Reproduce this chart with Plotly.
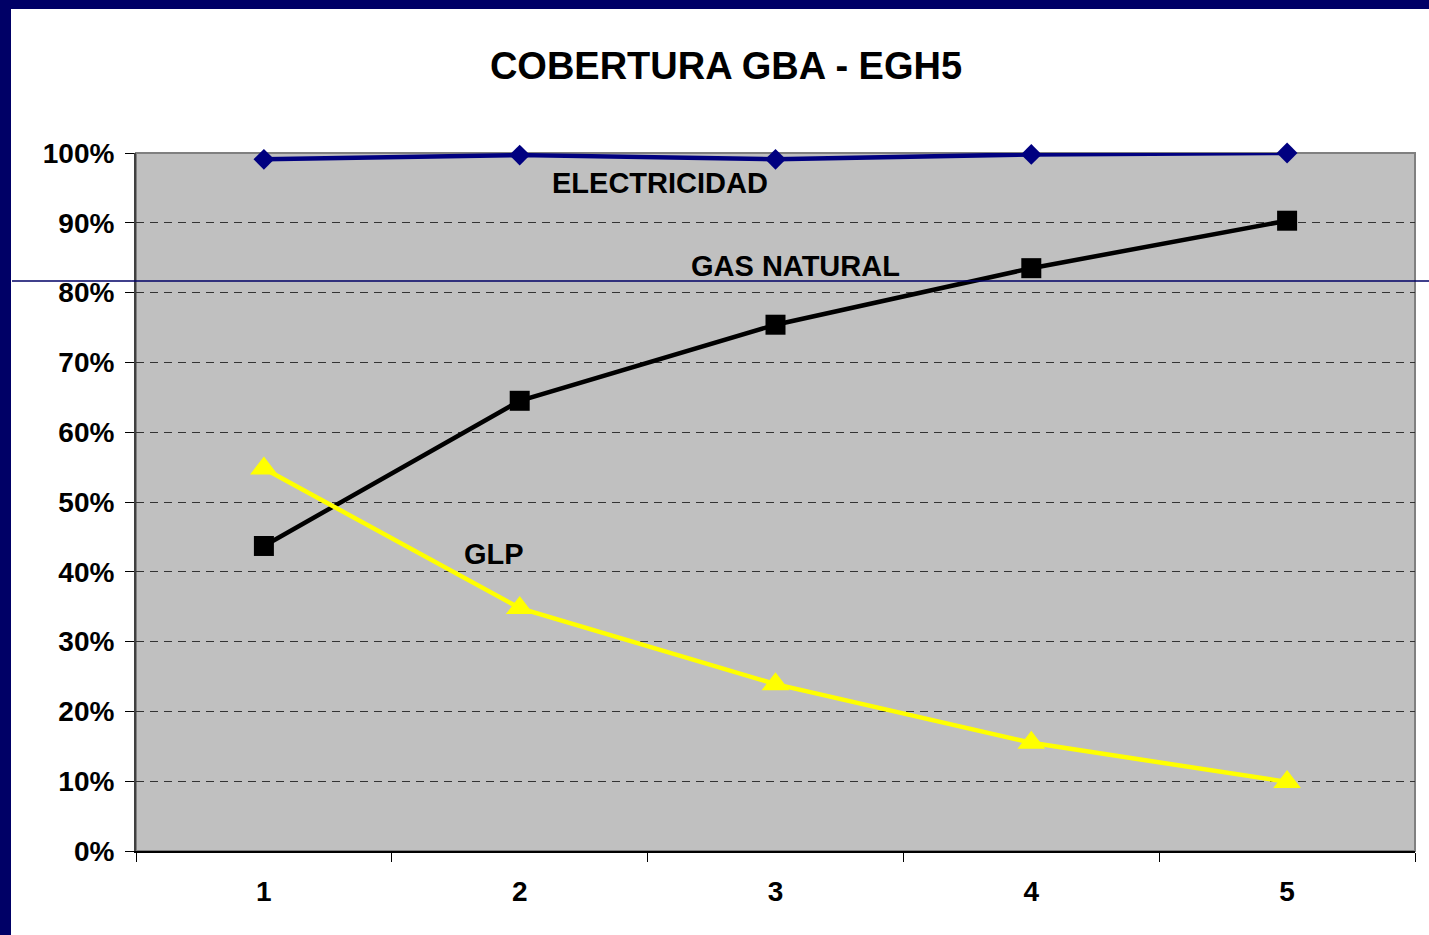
import plotly.graph_objects as go

quintiles = [1, 2, 3, 4, 5]
electricidad = [99.1, 99.7, 99.1, 99.8, 100.0]
gas_natural = [43.7, 64.5, 75.4, 83.5, 90.3]
glp = [54.8, 34.8, 23.9, 15.5, 9.9]

title_text = "COBERTURA GBA - EGH5"
series_labels = ["ELECTRICIDAD", "GAS NATURAL", "GLP"]

FONT = "Liberation Sans, Arial, Helvetica, sans-serif"
NAVY = "#000066"

fig = go.Figure()
fig.add_trace(
    go.Scatter(
        x=quintiles,
        y=electricidad,
        mode="lines+markers",
        name=series_labels[0],
        line=dict(color="#000080", width=4.5),
        marker=dict(symbol="diamond", size=16, color="#000080"),
        cliponaxis=False,
    )
)
fig.add_trace(
    go.Scatter(
        x=quintiles,
        y=gas_natural,
        mode="lines+markers",
        name=series_labels[1],
        line=dict(color="#000000", width=4.5),
        marker=dict(symbol="square", size=20, color="#000000"),
        cliponaxis=False,
    )
)
fig.add_trace(
    go.Scatter(
        x=quintiles,
        y=glp,
        mode="lines+markers",
        name=series_labels[2],
        line=dict(color="#FFFF00", width=4.5),
        marker=dict(symbol="triangle-up", size=24, color="#FFFF00"),
        cliponaxis=False,
    )
)

# labels placed next to each line
label_pos = [(2.55, 95.7), (3.08, 83.8), (1.90, 42.5)]
for text, (lx, ly) in zip(series_labels, label_pos):
    fig.add_annotation(
        x=lx, y=ly, xref="x", yref="y", text=f"<b>{text}</b>", showarrow=False,
        font=dict(family=FONT, size=29, color="#000000"),
    )

fig.update_layout(
    width=1429,
    height=935,
    margin=dict(l=136, r=14, t=153, b=84),
    paper_bgcolor="#FFFFFF",
    plot_bgcolor="#C0C0C0",
    showlegend=False,
    font=dict(family=FONT, color="#000000"),
    title=dict(
        text=f"<b>{title_text}</b>",
        x=(726 / 1429), xanchor="center",
        y=1 - 66 / 935, yanchor="middle",
        font=dict(family=FONT, size=38, color="#000000"),
    ),
    shapes=[
        # plot frame top/right
        dict(type="rect", xref="paper", yref="paper", x0=0, x1=1, y0=0, y1=1,
             line=dict(color="#808080", width=2), layer="below"),
        # slide border
        dict(type="rect", xref="paper", yref="paper",
             x0=-136 / 1279, x1=1293 / 1279, y0=(698 + 144) / 698, y1=(698 + 160) / 698,
             line=dict(width=0), fillcolor=NAVY),
        dict(type="rect", xref="paper", yref="paper",
             x0=-136 / 1279, x1=-125 / 1279, y0=-84 / 698, y1=(698 + 160) / 698,
             line=dict(width=0), fillcolor=NAVY),
        # thin slide line
        dict(type="line", xref="paper", yref="paper",
             x0=-124 / 1279, x1=1293 / 1279, y0=570 / 698, y1=570 / 698,
             line=dict(color=NAVY, width=1.5)),
    ],
)

fig.update_xaxes(
    range=[0.5, 5.5],
    tickvals=quintiles,
    ticktext=[f"<b>{q}</b>" for q in quintiles],
    ticks="outside",
    ticklen=0,
    ticklabelstandoff=14,
    tickfont=dict(family=FONT, size=28, color="#000000"),
    showgrid=False,
    zeroline=False,
    showline=True,
    linecolor="#000000",
    linewidth=2,
    minor=dict(tick0=0.5, dtick=1, ticks="outside", ticklen=9, tickcolor="#000000", tickwidth=1, showgrid=False),
)
fig.update_yaxes(
    range=[0, 100],
    tickvals=[0, 10, 20, 30, 40, 50, 60, 70, 80, 90, 100],
    ticktext=[f"<b>{v}%</b>" for v in range(0, 101, 10)],
    ticks="outside",
    ticklen=9,
    tickcolor="#000000",
    ticklabelstandoff=5,
    tickfont=dict(family=FONT, size=28, color="#000000"),
    showgrid=True,
    gridcolor="#333333",
    gridwidth=1,
    griddash="8px,6px",
    zeroline=False,
    showline=True,
    linecolor="#404040",
    linewidth=2,
)

fig.write_html(
    "out.html",
    config={"displayModeBar": False},
    post_script="document.body.style.margin='0';",
)
